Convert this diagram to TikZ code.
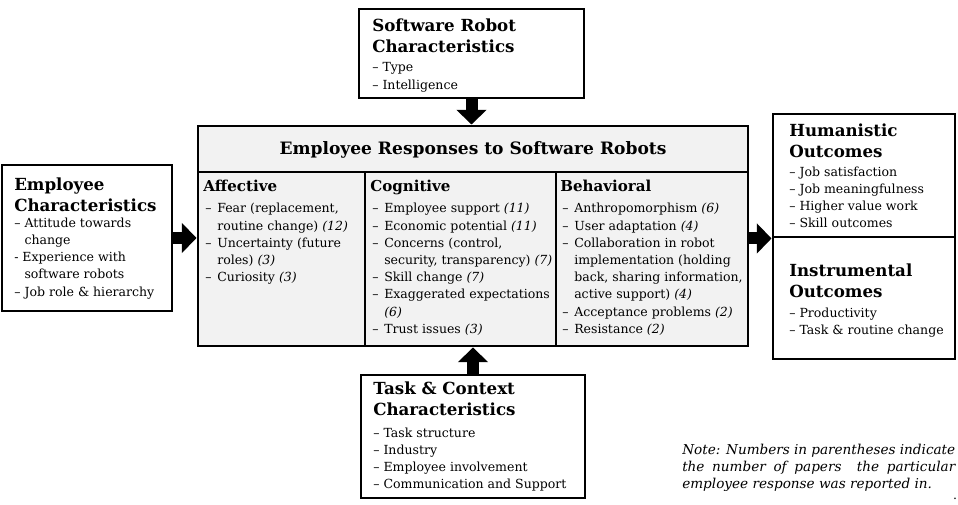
\documentclass[tikz,border=0pt]{standalone}
\usepackage{fontspec}
\setmainfont{DejaVu Serif}
\usetikzlibrary{positioning,fit,arrows.meta}

\definecolor{panel}{HTML}{F2F2F2}
\newcommand{\headfont}{\fontsize{12.5}{15.4}\selectfont\bfseries}
\newcommand{\titlefont}{\fontsize{12.8}{15.4}\selectfont\bfseries}
\newcommand{\colfont}{\fontsize{11.3}{14}\selectfont\bfseries}
\newcommand{\itemfont}{\fontsize{9.4}{12.9}\selectfont}
\newcommand{\notefont}{\fontsize{10.2}{12.75}\selectfont\itshape}
% items in the columns
\newcommand{\li}{\makebox[10.5pt][l]{\hspace{1.5pt}--}}
\newcommand{\lc}{\hspace*{10.5pt}}
% items in the boxes
\newcommand{\bd}{--\ }
\newcommand{\bc}{\hphantom{--\ }}
\newcommand{\cnt}[1]{\textit{(#1)}}

\begin{document}
\begin{tikzpicture}[x=0.75pt,y=-0.75pt,
  box/.style={draw,line width=2.2pt,inner sep=0pt},
  head/.style={font=\headfont,align=left,inner sep=0pt,anchor=north west},
  colhead/.style={font=\colfont,inner sep=0pt,text depth=0pt,anchor=north west},
  items/.style={font=\itemfont,align=left,inner sep=0pt,anchor=north west},
  rule/.style={line width=1pt},
  fat/.style={line width=9pt,-{Triangle[length=11pt,width=22pt]}}]
\useasboundingbox (0,0) rectangle (958,505);

% boxes
\node[box,fit={(359,9) (584,98)}] (robot) {};
\node[box,fill=panel,fit={(198,126) (748,346)}] (resp) {};
\node[box,fit={(2,165) (172,311)}] (emp) {};
\node[box,fit={(773,114) (955,237)}] (hum) {};
\node[box,fit={(773,237) (955,359)}] (instr) {};
\node[box,fit={(361,375) (585,498)}] (task) {};

% rules inside the responses box
\coordinate (band) at (198,172);
\coordinate (cogline) at (365,172);
\coordinate (behline) at (556,172);
\draw[rule] (band) -- (band -| resp.east);
\draw[rule] (cogline) -- (cogline |- resp.south);
\draw[rule] (behline) -- (behline |- resp.south);

% software robot
\node[head] (robothead) at (372,18.6) {Software Robot\\Characteristics};
\node[items,below=7.4pt of robothead.south west,anchor=north west] (robotlist)
  {\bd Type\\ \bd Intelligence};

% employee
\node[head] (emphead) at (14,177.6) {Employee\\Characteristics};
\node[items,below=4.4pt of emphead.south west,anchor=north west] (emplist)
  {\bd Attitude towards\\ \bc change\\ -\ Experience with\\ \bc software robots\\ \bd Job role \& hierarchy};

% responses
\node[font=\titlefont,inner sep=0pt] (resptitle) at (473,150) {Employee Responses to Software Robots};
\node[colhead] (affhead) at (203,180) {Affective};
\node[colhead] (coghead) at (370,180) {Cognitive};
\node[colhead] (behhead) at (560,180) {Behavioral};
\node[items,below=8.4pt of affhead.south west,anchor=north west] (afflist)
  {\li Fear (replacement,\\ \lc routine change) \cnt{12}\\ \li Uncertainty (future\\ \lc roles) \cnt{3}\\ \li Curiosity \cnt{3}};
\node[items,below=8.4pt of coghead.south west,anchor=north west] (coglist)
  {\li Employee support \cnt{11}\\ \li Economic potential \cnt{11}\\ \li Concerns (control,\\ \lc security, transparency) \cnt{7}\\ \li Skill change \cnt{7}\\ \li Exaggerated expectations\\ \lc \cnt{6}\\ \li Trust issues \cnt{3}};
\node[items,below=8.4pt of behhead.south west,anchor=north west] (behlist)
  {\li Anthropomorphism \cnt{6}\\ \li User adaptation \cnt{4}\\ \li Collaboration in robot\\ \lc implementation (holding\\ \lc back, sharing information,\\ \lc active support) \cnt{4}\\ \li Acceptance problems \cnt{2}\\ \li Resistance \cnt{2}};

% outcomes
\node[head] (humhead) at (789,123.6) {Humanistic\\Outcomes};
\node[items,below=6.7pt of humhead.south west,anchor=north west] (humlist)
  {\bd Job satisfaction\\ \bd Job meaningfulness\\ \bd Higher value work\\ \bd Skill outcomes};
\node[head] (instrhead) at (789,263.6) {Instrumental\\Outcomes};
\node[items,below=7.4pt of instrhead.south west,anchor=north west] (instrlist)
  {\bd Productivity\\ \bd Task \& routine change};

% task and context
\node[head] (taskhead) at (373,381.6) {Task \& Context\\Characteristics};
\node[items,below=8.9pt of taskhead.south west,anchor=north west] (tasklist)
  {\bd Task structure\\ \bd Industry\\ \bd Employee involvement\\ \bd Communication and Support};

% note
\node[font=\notefont,text width=204.75pt,align=justify,inner sep=0pt,anchor=north west] (note) at (682,444)
  {Note: Numbers in parentheses indicate\linebreak the number of papers\ \ the particular\linebreak employee response was reported in.};
\node[font=\itemfont,inner sep=0pt,anchor=base] (dot) at (955,500) {.};

% arrows
\draw[fat] (robot.south) -- (robot.south |- resp.north);
\draw[fat] (task.north) -- (task.north |- resp.south);
\draw[fat] (emp.east) -- (emp.east -| resp.west);
\draw[fat] (resp.east |- hum.south west) -- (hum.south west);
\end{tikzpicture}
\end{document}
